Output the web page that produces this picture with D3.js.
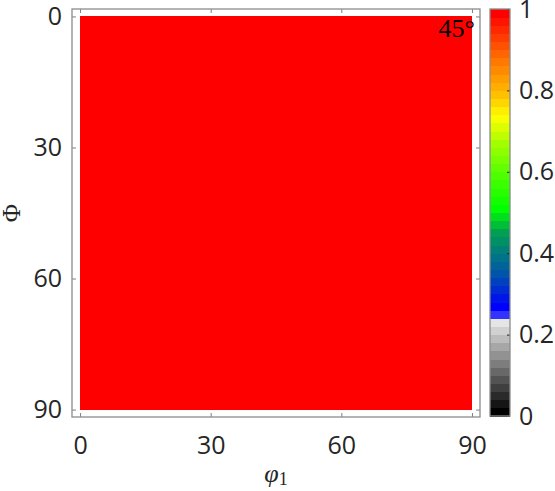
<!DOCTYPE html>
<html><head><meta charset="utf-8">
<script src="https://cdn.jsdelivr.net/npm/d3@7"></script>
<style>
body{margin:0;background:#fff;}
svg{display:block;}
.tk text{font-family:"Open Sans",sans-serif;font-size:25px;fill:#262626;}
</style></head><body>
<svg id="c" width="555" height="491"></svg>
<script>
// ---- data ----
const phi1Edges = [0, 90];        // φ1 cell edges (deg)
const PhiEdges  = [0, 90];        // Φ cell edges (deg)
const values    = [[1]];          // odf intensity per cell (rows = Φ, cols = φ1)
const xTicks    = [0, 30, 60, 90];
const yTicks    = [0, 30, 60, 90];
const cbTicks   = [0, 0.2, 0.4, 0.6, 0.8, 1];
const cbLevels  = 50;
const annotation = "45°";
// colormap anchor stops
const cmapPos = [0, 0.225, 0.235, 0.245, 0.265, 0.31, 0.35, 0.40, 0.45, 0.51, 0.60, 0.68, 0.74, 0.80, 0.88, 1.0];
const cmapCol = ["#000000","#e6e6e6","#3333ff","#3333ff","#0000ff","#0030d0","#0058a8","#007a80","#00a050","#00ff00","#55ff00","#aaff00","#ffff00","#ffbb00","#ff7700","#ff0000"];

const svg = d3.select("#c");
const L = 72, R = 480, T = 9, B = 417;
const x = d3.scaleLinear().domain([-1.85, 91.85]).range([L, R]);
const y = d3.scaleLinear().domain([-1.7, 91.7]).range([T, B]);

function cmap(v){
  for (let i = 0; i < cmapPos.length - 1; i++){
    if (v >= cmapPos[i] && v <= cmapPos[i+1]){
      const span = cmapPos[i+1] - cmapPos[i];
      const t = span === 0 ? 1 : (v - cmapPos[i]) / span;
      return d3.interpolateRgb(cmapCol[i], cmapCol[i+1])(t);
    }
  }
  return cmapCol[cmapCol.length-1];
}
const q = d3.scaleQuantize().domain([0,1]).range(d3.range(cbLevels));
function levelColor(i){ return cmap(i/(cbLevels-1)); }
function colorOf(v){ const i = Math.min(cbLevels-1, q(v)); return levelColor(i); }

// heatmap cells
const cells = [];
values.forEach((row, r) => row.forEach((v, c) => cells.push({x0: phi1Edges[c], x1: phi1Edges[c+1], y0: PhiEdges[r], y1: PhiEdges[r+1], v})));
svg.append("g").selectAll("rect").data(cells).join("rect")
  .attr("x", d => x(d.x0)).attr("y", d => y(d.y0))
  .attr("width", d => x(d.x1) - x(d.x0)).attr("height", d => y(d.y1) - y(d.y0))
  .attr("fill", d => colorOf(d.v)).attr("shape-rendering","crispEdges");

// axes (inward ticks on all sides)
const tcol = "#808080";
function style(g){ g.select(".domain").remove(); g.selectAll(".tick line").attr("stroke", tcol); g.attr("class","tk"); }
svg.append("g").attr("transform",`translate(${L},0)`)
  .call(d3.axisLeft(y).tickValues(yTicks).tickSizeInner(-4).tickSizeOuter(0).tickPadding(10).tickFormat(d3.format("d")))
  .call(style);
svg.append("g").attr("transform",`translate(${R},0)`)
  .call(d3.axisRight(y).tickValues(yTicks).tickSizeInner(-4).tickSizeOuter(0).tickFormat(""))
  .call(style);
svg.append("g").attr("transform",`translate(0,${B})`)
  .call(d3.axisBottom(x).tickValues(xTicks).tickSizeInner(-4).tickSizeOuter(0).tickPadding(19).tickFormat(d3.format("d")))
  .call(style);
svg.append("g").attr("transform",`translate(0,${T})`)
  .call(d3.axisTop(x).tickValues(xTicks).tickSizeInner(-4).tickSizeOuter(0).tickFormat(""))
  .call(style);
svg.append("rect").attr("x", L).attr("y", T).attr("width", R-L).attr("height", B-T)
  .attr("fill","none").attr("stroke", "#8c8c8c").attr("stroke-width", 1.3);

// annotation
svg.append("text").attr("x", x(90) + 3).attr("y", 37).attr("text-anchor","end")
  .attr("font-family","'Liberation Serif','DejaVu Serif',serif").attr("font-size", 26).attr("fill","#000")
  .text(annotation);

// axis labels
svg.append("text").attr("x", x(45)).attr("y", 482).attr("text-anchor","middle")
  .attr("font-family","'Liberation Serif','DejaVu Serif',serif").attr("font-size", 26).attr("fill","#262626")
  .call(t => { t.append("tspan").attr("font-style","italic").text("φ");
               t.append("tspan").attr("font-size", 18).attr("dy", 3).text("1"); });
svg.append("text").attr("transform", `translate(20,${y(45)}) rotate(-90)`).attr("text-anchor","middle")
  .attr("font-family","'Liberation Serif','DejaVu Serif',serif").attr("font-size", 25).attr("fill","#262626")
  .text("Φ");

// colorbar
const cbL = 490, cbR = 510, cbT = 9, cbB = 416;
const cy = d3.scaleLinear().domain([0,1]).range([cbB, cbT]);
const levels = d3.range(cbLevels);
svg.append("g").selectAll("rect").data(levels).join("rect")
  .attr("x", cbL).attr("width", cbR - cbL)
  .attr("y", i => cy((i+1)/cbLevels)).attr("height", i => cy(i/cbLevels) - cy((i+1)/cbLevels) + 0.5)
  .attr("fill", i => levelColor(i)).attr("shape-rendering","crispEdges");
svg.append("g").attr("transform",`translate(${cbR},0)`)
  .call(d3.axisRight(cy).tickValues(cbTicks).tickSizeInner(-3).tickSizeOuter(0).tickPadding(9).tickFormat(d => d === 0 || d === 1 ? d3.format("d")(d) : d3.format(".1f")(d)))
  .call(g => { g.select(".domain").remove(); g.selectAll(".tick line").attr("stroke","#262626"); g.attr("class","tk"); });
svg.append("rect").attr("x", cbL).attr("y", cbT).attr("width", cbR-cbL).attr("height", cbB-cbT)
  .attr("fill","none").attr("stroke","#8c8c8c").attr("stroke-width",1.3);
</script>
</body></html>
